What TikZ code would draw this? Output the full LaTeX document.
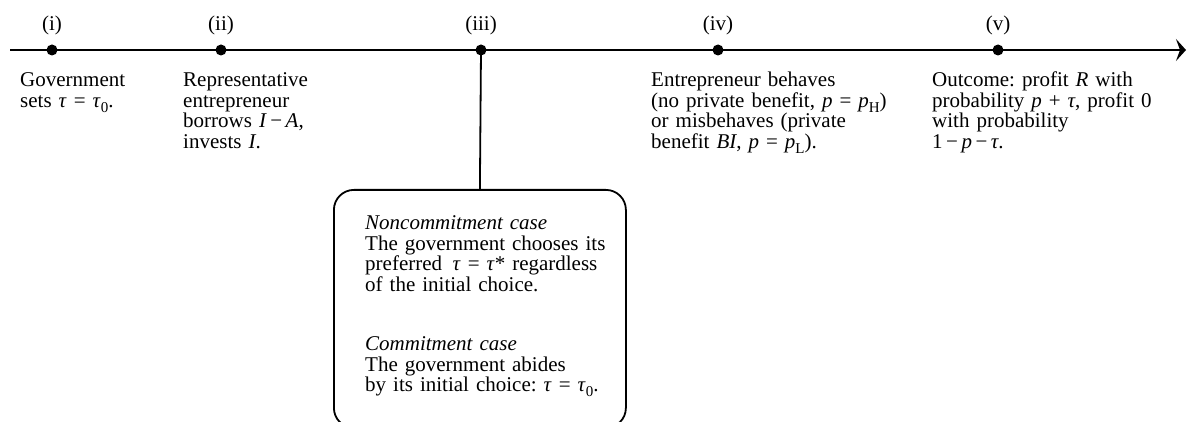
\documentclass[tikz,border=0pt]{standalone}
\usepackage{fontspec}
\setmainfont{Liberation Serif}
\usetikzlibrary{arrows.meta}
% lowered subscript in text
\newcommand\lowsub[1]{\raisebox{-5pt}{\fontsize{15}{15}\selectfont #1}}
\newcommand\vtau{\textit{τ}}
\begin{document}
\begin{tikzpicture}[x=1pt,y=-1pt,
  every node/.style={font=\fontsize{21}{20.5}\selectfont},
  evt/.style={circle,fill=black,inner sep=0pt,minimum size=11pt},
  tag/.style={anchor=base,inner sep=0pt},
  desc/.style={anchor=base west,inner sep=0pt,text width=320pt,align=left,
               execute at begin node=\frenchspacing},
  axisline/.style={line width=2.5pt,-{Stealth[length=10pt,width=22pt,inset=4pt]}},
  link/.style={line width=1.8pt},
  casebox/.style={draw,line width=1.8pt,rounded corners=20pt,anchor=north west,
                  minimum width=292pt,minimum height=238pt,inner sep=0pt}
]
\useasboundingbox (0,0) rectangle (1187,422);
\clip (0,0) rectangle (1187,422);

% time axis
\coordinate (t0) at (10,50);
\coordinate (t1) at (1186,50);
\draw[axisline] (t0) -- (t1);

% box of the two cases, hanging from date (iii)
\node[casebox] (box) at (333,189) {};
\node[evt] (d3) at (481,50) {};
\draw[link] (d3.center) -- (box.north);

% dates
\node[evt] (d1) at (52,50) {};
\node[evt] (d2) at (221,50) {};
\node[evt] (d4) at (718,50) {};
\node[evt] (d5) at (998,50) {};

\node[tag] (l1) at (52,31) {(i)};
\node[tag] (l2) at (221,31) {(ii)};
\node[tag] (l3) at (481,31) {(iii)};
\node[tag] (l4) at (718,31) {(iv)};
\node[tag] (l5) at (998,31) {(v)};

% what happens at each date
\node[desc] (x1) at (20,87) {Government\\sets \vtau{} = \vtau\lowsub{0}.};
\node[desc] (x2) at (183,87) {Representative\\entrepreneur\\borrows \textit{I}\,−\,\textit{A},\\invests \textit{I}.};
\node[desc] (x4) at (651,87) {Entrepreneur behaves\\(no private benefit, \textit{p} = \textit{p}\lowsub{H})\\or misbehaves (private\\benefit \textit{BI}, \textit{p} = \textit{p}\lowsub{L}).};
\node[desc] (x5) at (932,87) {Outcome: profit \textit{R} with\\probability \textit{p} + \vtau, profit 0\\with probability\\1\,−\,\textit{p}\,−\,\vtau.};

\node[desc] (x3) at (365,230) {\textit{Noncommitment case}\\The government chooses its\\preferred\enspace\vtau{} = \vtau*~regardless\\of the initial choice.\\[39pt]\textit{Commitment case}\\The government abides\\by its initial choice: \vtau{} = \vtau\lowsub{0}.};
\end{tikzpicture}
\end{document}
